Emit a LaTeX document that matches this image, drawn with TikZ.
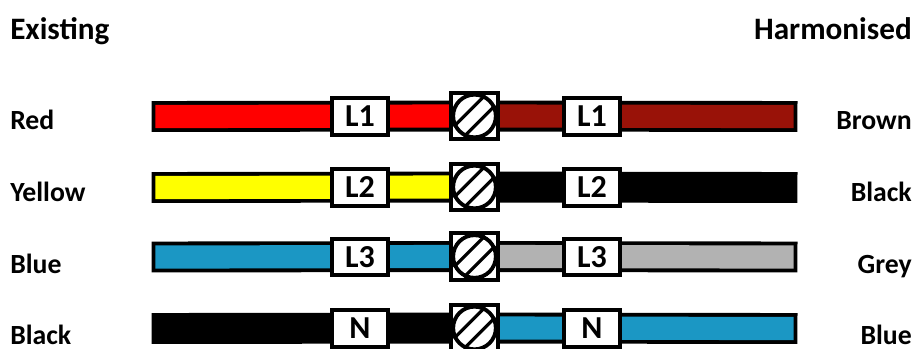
\documentclass[tikz,border=0pt]{standalone}
\usepackage{fontspec}
\setmainfont{Carlito}
\usepackage{xcolor}
\usetikzlibrary{backgrounds}
\definecolor{wirered}{HTML}{FF0000}
\definecolor{wirebrown}{HTML}{991208}
\definecolor{wireyellow}{HTML}{FFFF00}
\definecolor{wireblue}{HTML}{1B97C4}
\definecolor{wiregrey}{HTML}{B2B2B2}
\definecolor{wireblack}{HTML}{000000}
\tikzset{
  heading/.style={font=\fontsize{23.4}{28}\bfseries\selectfont, inner sep=0pt},
  wirename/.style={font=\fontsize{20.8}{25}\bfseries\selectfont, inner sep=0pt},
  tagbox/.style={draw, fill=white, line width=2.9pt, minimum width=42.4pt, minimum height=27.6pt, inner sep=0pt, font=\fontsize{24}{28}\bfseries\selectfont},
  termbox/.style={draw, fill=white, line width=2.9pt, minimum size=35pt, inner sep=0pt},
  termscrew/.style={draw, fill=white, circle, line width=2.9pt, minimum size=32pt, inner sep=0pt},
  slot/.style={line width=2.4pt},
  wire/.style={line width=2.9pt, double distance=17.4pt, line cap=rect}
}
\begin{document}
\begin{tikzpicture}[x=0.75pt,y=-0.75pt]
  \useasboundingbox (0,0) rectangle (913,349);
  \node[heading, anchor=base west] (existing) at (10,40) {Existing};
  \node[heading, anchor=base east] (harmonised) at (912,40) {Harmonised};
  \foreach \rownum/\rowy/\namey/\tagtext/\lefttext/\leftcol/\righttext/\rightcol in {
    1/116.5/130/L1/Red/wirered/Brown/wirebrown,
    2/187.5/201/L2/Yellow/wireyellow/Black/wireblack,
    3/257/273/L3/Blue/wireblue/Grey/wiregrey,
    4/328.5/344.5/N/Black/wireblack/Blue/wireblue} {
    \node[wirename, anchor=base west] (lname\rownum) at (10,\namey) {\lefttext};
    \node[wirename, anchor=base east] (rname\rownum) at (912,\namey) {\righttext};
    \coordinate (lend\rownum) at (167,\rowy);
    \coordinate (rend\rownum) at (782,\rowy);
    \node[tagbox] (ltag\rownum) at (360,\rowy) {\tagtext};
    \node[tagbox] (rtag\rownum) at (592,\rowy) {\tagtext};
    \node[termbox] (term\rownum) at (474.5,\rowy-0.5) {};
    \node[termscrew] (screw\rownum) at (term\rownum) {};
    \draw[slot] (screw\rownum.63) -- (screw\rownum.207);
    \draw[slot] (screw\rownum.27) -- (screw\rownum.243);
    \begin{scope}[on background layer]
      \draw[wire, double=\leftcol] (lend\rownum) -- (term\rownum.center);
      \draw[wire, double=\rightcol] (term\rownum.center) -- (rend\rownum);
    \end{scope}
  }
\end{tikzpicture}
\end{document}
